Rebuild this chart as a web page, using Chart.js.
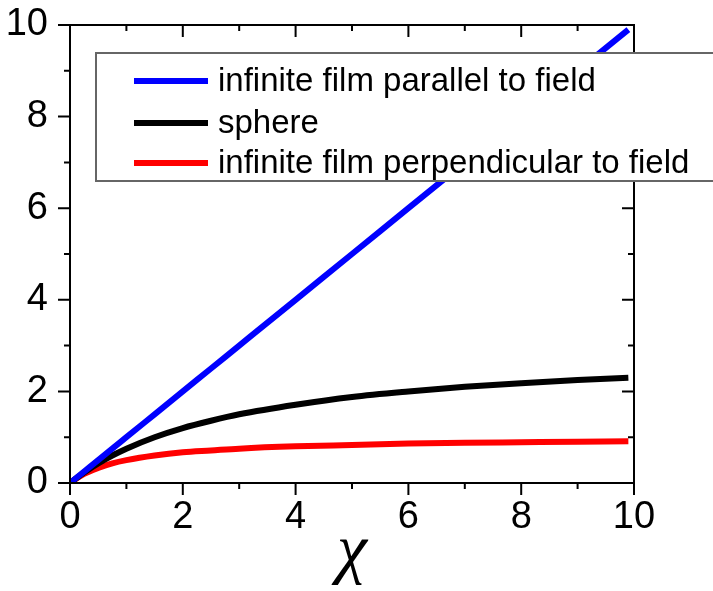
<!DOCTYPE html>
<html>
<head>
<meta charset="utf-8">
<script src="https://cdn.jsdelivr.net/npm/chart.js@4.4.0/dist/chart.umd.min.js"></script>
<style>
  html, body { margin: 0; padding: 0; background: #fff; }
</style>
</head>
<body>
<canvas id="chart" width="713" height="591"></canvas>
<script>
// --- Data ---
const chi = [0, 0.25, 0.5, 0.75, 1, 1.5, 2, 2.5, 3, 4, 5, 6, 7, 8, 9, 9.9];
const filmParallel = [0, 0.25, 0.5, 0.75, 1, 1.5, 2, 2.5, 3, 4, 5, 6, 7, 8, 9, 9.9];
const sphere = [0, 0.23, 0.43, 0.6, 0.75, 1.0, 1.2, 1.36, 1.5, 1.71, 1.88, 2.0, 2.1, 2.18, 2.25, 2.3];
const filmPerpendicular = [0, 0.2, 0.33, 0.43, 0.5, 0.6, 0.67, 0.71, 0.75, 0.8, 0.83, 0.86, 0.88, 0.89, 0.9, 0.91];
const seriesLabels = ['infinite film parallel to field', 'sphere', 'infinite film perpendicular to field'];
const majorTicks = [0, 2, 4, 6, 8, 10];
const minorTicks = [1, 3, 5, 7, 9];

const toPoints = (ys) => ys.map((y, i) => ({ x: chi[i], y: y }));

// frame + Origin-style ticks on all four sides
const frameTicks = {
  id: 'frameTicks',
  afterDatasetsDraw(chart) {
    const { ctx, chartArea: a, scales: { x, y } } = chart;
    ctx.save();
    ctx.strokeStyle = '#000';
    ctx.lineWidth = 2;
    ctx.strokeRect(a.left, a.top, a.right - a.left, a.bottom - a.top);
    const tick = (v, len) => {
      const px = x.getPixelForValue(v);
      const py = y.getPixelForValue(v);
      ctx.beginPath();
      ctx.moveTo(px, a.bottom); ctx.lineTo(px, a.bottom + len);   // bottom, outward
      ctx.moveTo(px, a.top); ctx.lineTo(px, a.top + len);         // top, inward
      ctx.moveTo(a.left, py); ctx.lineTo(a.left - len, py);       // left, outward
      ctx.moveTo(a.right, py); ctx.lineTo(a.right - len, py);     // right, inward
      ctx.stroke();
    };
    majorTicks.forEach(v => tick(v, 12));
    minorTicks.forEach(v => tick(v, 6));
    ctx.restore();
  }
};

// boxed legend sitting inside the plot, covering the blue line
const boxLegend = {
  id: 'boxLegend',
  afterDraw(chart) {
    const { ctx } = chart;
    ctx.save();
    ctx.fillStyle = '#fff';
    ctx.fillRect(96, 53, 630, 128);
    ctx.strokeStyle = '#666';
    ctx.lineWidth = 2;
    ctx.strokeRect(96, 53, 630, 128);
    ctx.font = '33px "Liberation Sans", Arial, sans-serif';
    ctx.textBaseline = 'middle';
    ctx.fillStyle = '#000';
    const rows = [81, 123, 163];
    chart.data.datasets.forEach((ds, i) => {
      ctx.strokeStyle = ds.borderColor;
      ctx.lineWidth = 6;
      ctx.beginPath();
      ctx.moveTo(134, rows[i]);
      ctx.lineTo(208, rows[i]);
      ctx.stroke();
      ctx.fillText(ds.label, 218, rows[i] + 1);
    });
    ctx.restore();
  }
};

const tickFont = { family: '"Liberation Sans", Arial, sans-serif', size: 38 };

new Chart(document.getElementById('chart'), {
  type: 'line',
  data: {
    datasets: [
      { label: seriesLabels[0], data: toPoints(filmParallel), borderColor: '#0000ff' },
      { label: seriesLabels[1], data: toPoints(sphere), borderColor: '#000000' },
      { label: seriesLabels[2], data: toPoints(filmPerpendicular), borderColor: '#ff0000' }
    ]
  },
  options: {
    responsive: false,
    animation: false,
    parsing: false,
    layout: { padding: { top: 25, right: 79 } },
    elements: {
      line: { borderWidth: 6, cubicInterpolationMode: 'monotone', fill: false },
      point: { radius: 0 }
    },
    plugins: {
      legend: { display: false },
      tooltip: { enabled: false }
    },
    scales: {
      x: {
        type: 'linear',
        min: 0,
        max: 10,
        afterFit: (s) => { s.height = 108; s.paddingLeft = 0; s.paddingRight = 0; },
        afterBuildTicks: (s) => { s.ticks = majorTicks.map(v => ({ value: v })); },
        grid: { display: false, drawTicks: false },
        border: { display: false },
        ticks: { color: '#000', font: tickFont, padding: 12, maxRotation: 0 },
        title: {
          display: true,
          text: 'χ',
          color: '#000',
          font: { family: '"Liberation Serif", "Times New Roman", serif', size: 68, style: 'italic' },
          padding: { top: 0, bottom: -3 }
        }
      },
      y: {
        type: 'linear',
        min: 0,
        max: 10,
        afterFit: (s) => { s.width = 70; s.paddingTop = 0; s.paddingBottom = 0; },
        afterBuildTicks: (s) => { s.ticks = majorTicks.map(v => ({ value: v })); },
        grid: { display: false, drawTicks: false },
        border: { display: false },
        ticks: { color: '#000', font: tickFont, padding: 22 }
      }
    }
  },
  plugins: [frameTicks, boxLegend]
});
</script>
</body>
</html>
